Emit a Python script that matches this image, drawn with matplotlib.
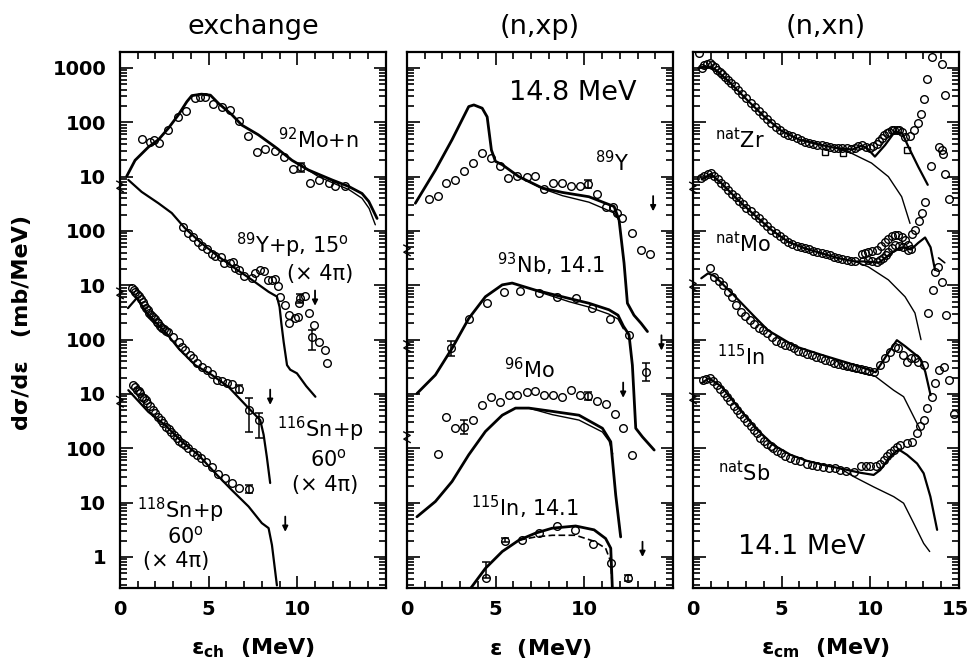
import numpy as np
import matplotlib
matplotlib.use('Agg')
import matplotlib.pyplot as plt
from matplotlib.ticker import MultipleLocator, LogLocator, FixedLocator, FixedFormatter, NullFormatter
from matplotlib.transforms import blended_transform_factory

plt.rcParams['font.family'] = ['DejaVu Sans']
plt.rcParams['mathtext.fontset'] = 'dejavusans'
plt.rcParams['mathtext.default'] = 'regular'

ytick_labels = ['1', '10', '100', '10', '100', '10', '100', '10', '100', '1000']

# ---------------- exchange panel ----------------
MO92_SHIFT = 1e6
mo92n_th_x = [0.38, 0.85, 1.6, 2.17, 2.73, 3.3, 3.77, 4.05, 4.6, 5.1, 5.55, 6.31, 6.87, 7.8, 8.76, 9.7, 10.64, 11.96, 12.9, 13.65, 14.03, 14.5]
mo92n_th_y = [10.2, 20, 35, 48, 78, 138, 240, 310, 330, 316, 224, 138, 89, 59, 35, 20, 13.2, 8.7, 6.6, 4.9, 3.5, 1.7]
mo92n_th2_x = [10.2, 11.2, 12.2, 12.9, 13.65, 14.05, 14.4]
mo92n_th2_y = [16, 10, 7.2, 5.8, 4.0, 2.6, 1.3]
mo92n_x = [1.22, 1.69, 1.94, 2.22, 2.73, 3.26, 3.71, 4.24, 4.52, 4.8, 5.22, 5.74, 6.21, 6.72, 7.21, 7.72, 8.19, 8.72, 9.23, 9.75, 10.23, 10.7, 11.24, 11.77, 12.15, 12.67]
mo92n_y = [49, 44, 47, 41, 72, 127, 163, 276, 295, 295, 218, 195, 170, 107, 55, 29, 32, 30, 23, 14, 15, 7.8, 8.7, 7.6, 6.8, 6.6]

Y89P_SHIFT = 1e4
y89p_th_x = [0.47, 1.22, 2.17, 2.92, 3.67, 4.61, 5.55, 6.5, 7.44, 8.38, 8.85, 9.0, 9.1, 9.23, 9.42, 9.6, 9.98, 10.5, 11.02]
y89p_th_y = [871, 525, 324, 214, 112, 58.9, 33.9, 20.4, 12.6, 7.6, 6.2, 4.0, 2.0, 0.91, 0.34, 0.28, 0.24, 0.14, 0.089]
y89p_x = [3.58, 3.82, 4.09, 4.39, 4.65, 4.9, 5.18, 5.36, 5.71, 5.84, 6.21, 6.35, 6.5, 6.72, 6.97, 7.44, 7.63, 7.91, 8.1, 8.34,
          8.57, 8.72, 8.91, 9.04, 9.28, 9.51, 9.51, 9.89, 10.04, 10.08, 10.17, 10.45, 10.64, 10.83, 10.96, 11.2, 11.54, 11.69]
y89p_y = [120, 93, 79, 62, 52, 46, 38, 35, 33, 26, 26, 27, 21, 19, 15, 13.5, 17, 19, 18, 12.6,
          12.6, 12.9, 9.8, 6.2, 4.4, 2.8, 2.0, 2.5, 2.6, 4.7, 5.8, 6.3, 3.1, 1.1, 1.9, 0.89, 0.65, 0.37]

SN116_SHIFT = 1e2
sn116_th_x = [0.45, 0.96, 1.6, 2.54, 3.3, 4.24, 5.18, 6.12, 7.25, 7.91, 8.1, 8.28, 8.47]
sn116_th_y = [380, 589, 282, 141, 69, 34, 22.4, 13.5, 5.5, 3.3, 1.78, 0.7, 0.23]
sn116_x = [0.68, 0.78, 0.87, 0.97, 1.06, 1.16, 1.27, 1.36, 1.46, 1.57, 1.66, 1.77, 1.86, 1.97, 2.07, 2.17, 2.28, 2.38, 2.48, 2.6,
           2.73, 3.01, 3.3, 3.48, 3.67, 3.95, 4.14, 4.33, 4.61, 4.9, 5.18, 5.46, 5.74, 6.03, 6.31, 6.72, 7.25, 7.82]
sn116_y = [891, 830, 760, 680, 630, 550, 500, 440, 380, 355, 316, 290, 257, 240, 214, 200, 182, 166, 155, 145,
           141, 112, 91, 74, 65, 52, 46, 37, 32, 28, 23, 18, 17, 16, 15, 12.3, 5.1, 3.3]

SN118_SHIFT = 1
sn118_th_x = [0.47, 1.6, 2.54, 3.48, 4.42, 5.37, 6.31, 7.25, 8.0, 8.38, 8.57, 8.85]
sn118_th_y = [1175, 468, 269, 132, 76, 35, 17, 8.5, 4.2, 3.4, 1.66, 0.30]
sn118_x = [0.75, 0.85, 0.95, 1.05, 1.15, 1.25, 1.35, 1.45, 1.55, 1.7, 1.85, 2.0, 2.15, 2.3, 2.45, 2.6, 2.75, 2.9, 3.05, 3.2, 3.35, 3.5,
           3.67, 3.86, 4.09, 4.33, 4.58, 4.84, 5.18, 5.55, 5.93, 6.31, 6.72, 7.25]
sn118_y = [1479, 1349, 1202, 1122, 1023, 891, 832, 759, 692, 603, 513, 447, 380, 331, 288, 251, 224, 200, 174, 155, 138, 126,
           115, 100, 87, 76, 66, 56, 46, 33, 28, 23, 19, 18]

# ---------------- (n,xp) panel ----------------
Y89_SHIFT = 1e6
y89_th_x = [0.47, 1.6, 2.54, 3.48, 3.77, 4.24, 4.52, 4.76, 4.99, 5.37, 6.31, 7.63, 8.76, 10.26, 11.2, 11.68, 11.96, 12.24, 12.43, 12.8, 13.2, 13.56]
y89_th_y = [3.24, 13.2, 47.9, 195, 209, 182, 126, 30.9, 19.1, 16.6, 10, 6.17, 5.13, 4.27, 3.24, 2.82, 1.58, 0.257, 0.0468, 0.0282, 0.020, 0.0141]
y89_th2_x = [6.31, 7.63, 8.76, 10.26, 11.2, 11.68, 11.96]
y89_th2_y = [10, 6.03, 4.47, 3.39, 2.51, 2.14, 1.58]
y89_x = [1.22, 1.73, 2.22, 2.69, 3.24, 3.73, 4.24, 4.73, 5.22, 5.71, 6.23, 6.74, 7.21, 7.72, 8.23, 8.72, 9.23, 9.73,
         10.23, 10.73, 11.2, 11.62, 11.86, 12.15, 12.71, 13.18, 13.69]
y89_y = [3.89, 4.37, 7.59, 8.71, 12.9, 18.2, 27.5, 21.9, 15.8, 9.55, 10.2, 10, 10.2, 5.89, 7.76, 7.76, 6.61, 6.76,
         7.24, 4.79, 2.82, 2.82, 2.14, 1.70, 0.912, 0.447, 0.380]

NB93_SHIFT = 1e4
nb93_th_x = [0.56, 1.6, 2.54, 3.48, 4.42, 5.37, 5.93, 7.25, 9.13, 10.26, 11.39, 11.9, 12.2, 12.52, 12.71, 12.9, 13.28, 13.94]
nb93_th_y = [0.102, 0.224, 0.692, 2.45, 6.17, 10.2, 11.0, 8.13, 5.75, 4.68, 3.55, 2.82, 1.78, 1.23, 0.339, 0.0234, 0.0162, 0.0093]
nb93_th2_x = [7.25, 9.13, 10.26, 11.39, 11.9, 12.2]
nb93_th2_y = [7.94, 5.01, 3.98, 2.95, 2.40, 1.58]
nb93_x = [2.5, 3.48, 4.52, 5.46, 6.4, 7.44, 8.47, 9.51, 10.45, 11.45, 12.52, 13.47]
nb93_y = [0.692, 2.45, 4.68, 7.59, 7.94, 7.08, 6.17, 5.75, 3.80, 2.4, 1.23, 0.257]

MO96_SHIFT = 1e2
mo96_th_x = [0.56, 1.6, 2.54, 3.48, 4.42, 5.37, 6.12, 6.87, 8.19, 9.7, 11.02, 11.49, 11.77, 12.05]
mo96_th_y = [0.055, 0.105, 0.245, 0.759, 2.04, 4.07, 5.50, 5.50, 4.79, 4.07, 2.34, 1.32, 0.138, 0.0234]
mo96_th2_x = [6.87, 8.19, 9.7, 11.02, 11.4, 11.6]
mo96_th2_y = [5.5, 4.17, 3.31, 2.0, 1.35, 0.79]
mo96_x = [1.75, 2.22, 2.73, 3.24, 3.73, 4.24, 4.73, 5.24, 5.74, 6.23, 6.74, 7.21, 7.72, 8.23, 8.72, 9.23, 9.73,
          10.23, 10.73, 11.24, 11.73, 12.2, 12.71]
mo96_y = [0.776, 3.80, 2.40, 2.51, 3.31, 6.31, 8.71, 7.08, 9.77, 9.77, 11.0, 11.5, 9.55, 9.55, 8.71, 11.7, 9.55,
          9.12, 7.41, 6.46, 4.37, 2.34, 0.759]

IN115P_SHIFT = 1
in115p_th_x = [3.58, 4.42, 5.37, 6.31, 7.25, 8.19, 9.51, 10.55, 11.2, 11.49, 11.58]
in115p_th_y = [0.263, 0.617, 1.26, 2.04, 2.75, 3.39, 3.72, 3.16, 2.19, 1.45, 0.269]
in115p_th2_x = [6.31, 7.25, 8.19, 9.51, 10.55, 11.2, 11.49, 11.58]
in115p_th2_y = [2.04, 2.34, 2.51, 2.51, 1.95, 1.45, 0.813, 0.269]
in115p_x = [4.48, 5.5, 6.5, 7.44, 8.47, 9.47, 10.49, 11.49, 12.49]
in115p_y = [0.407, 2.0, 2.04, 2.75, 3.72, 3.16, 1.70, 0.759, 0.407]

# ---------------- (n,xn) panel ----------------
ZR_SHIFT = 1e6
zr_th_x = [0.3, 0.7, 1.2, 2.0, 3.0, 4.0, 5.0, 6.0, 7.0, 8.0, 9.0, 9.5, 9.8, 10.26, 10.83, 11.39, 11.8, 12.15, 12.71, 13.24]
zr_th_y = [1000, 1072, 977, 575, 269, 129, 69.2, 47.9, 39.8, 33.9, 31.6, 37.2, 33.9, 23.4, 38.0, 67.6, 63.1, 35.5, 15.1, 7.08]
zr_th2_x = [8.0, 8.76, 10.07, 11.02, 11.77, 12.24]
zr_th2_y = [33.9, 28.8, 17.8, 10, 4.27, 1.38]
zr_x = [0.35, 0.5, 0.65, 0.8, 0.94, 1.08, 1.22, 1.36, 1.51, 1.65, 1.79, 1.98, 2.17, 2.35, 2.54, 2.78, 3.01, 3.25, 3.48, 3.71,
        3.95, 4.18, 4.42, 4.66, 4.9, 5.13, 5.37, 5.6, 5.84, 6.07, 6.31, 6.55, 6.78, 7.02, 7.25, 7.49, 7.72, 7.96, 8.19, 8.43,
        8.66, 8.9, 9.13, 9.32, 9.51, 9.75, 9.98, 10.17, 10.36, 10.5, 10.64, 10.78, 10.92, 11.06, 11.2, 11.35, 11.49, 11.63, 11.77, 11.96]
zr_y = [1862, 1000, 1122, 1202, 1230, 1122, 1047, 933, 851, 776, 692, 603, 525, 457, 398, 331, 275, 229, 195, 162,
        138, 115, 95.5, 83.2, 72.4, 64.6, 58.9, 55.0, 51.3, 46.8, 43.7, 41.7, 40.7, 38.9, 38.0, 36.3, 35.5, 33.9, 33.1, 33.1,
        33.1, 32.4, 33.9, 36.3, 38.0, 35.5, 33.1, 36.3, 40.7, 45.7, 51.3, 57.5, 63.1, 67.6, 70.8, 72.4, 72.4, 70.8, 67.6, 53.7]
zr_sq_x = [7.44, 8.47, 12.05]
zr_sq_y = [28.8, 26.9, 30.9]
zr_el_x = [12.26, 12.49, 12.67, 12.86, 13.05, 13.2, 13.49, 14.05, 14.24]
zr_el_y = [56.2, 72.4, 97.7, 141, 269, 631, 1585, 1175, 316]

MO_SHIFT = 1e4
mo_th_x = [0.5, 1.0, 1.6, 2.54, 3.48, 4.42, 5.37, 6.31, 7.25, 8.19, 9.13, 9.6, 10.5, 11.3, 11.8, 12.3, 12.7, 13.09, 13.4, 13.65]
mo_th_y = [891, 1120, 759, 372, 195, 105, 63.1, 47.9, 38.9, 31.6, 27.5, 27.5, 26.3, 41.7, 50.1, 45.7, 60.3, 75.9, 50.1, 19.1]
mo_th_tail_x = [13.85, 14.2]
mo_th_tail_y = [32, 26]
mo_th2_x = [9.13, 9.89, 11.02, 11.96, 12.52, 12.86]
mo_th2_y = [27.5, 21.9, 12.6, 6.17, 3.09, 1.0]
mo_x = [0.47, 0.65, 0.85, 1.03, 1.2, 1.4, 1.6, 1.8, 2.0, 2.2, 2.4, 2.6, 2.8, 3.0, 3.25, 3.48, 3.7, 3.95, 4.18, 4.42,
        4.66, 4.9, 5.13, 5.37, 5.6, 5.84, 6.07, 6.31, 6.55, 6.78, 7.02, 7.25, 7.49, 7.72, 7.96, 8.19, 8.43, 8.66, 8.9, 9.13]
mo_y = [933, 1050, 1120, 1150, 1050, 891, 759, 661, 562, 479, 417, 355, 309, 269, 229, 195, 170, 145, 123, 105,
        91.2, 79.4, 70.8, 63.1, 57.5, 53.7, 50.1, 47.9, 45.7, 43.7, 40.7, 38.9, 37.2, 35.5, 33.1, 31.6, 30.2, 29.5, 28.2, 27.5]
mo_up_x = [9.51, 9.7, 9.89, 10.1, 10.36, 10.6, 10.83, 11.0, 11.2, 11.4, 11.58, 11.77, 11.96, 12.15, 12.3]
mo_up_y = [38.0, 39.8, 41.7, 42.7, 44.7, 52.5, 63.1, 72.4, 79.4, 83.2, 85.1, 77.6, 67.6, 56.2, 46.8]
mo_lo_x = [9.6, 9.89, 10.12, 10.36, 10.55, 10.73, 10.88, 11.02, 11.2, 11.39, 11.6, 11.86, 12.15]
mo_lo_y = [28.2, 28.8, 27.5, 26.9, 28.8, 31.6, 36.3, 41.7, 47.9, 55.0, 53.7, 51.3, 44.7]
mo_el_x = [12.36, 12.54, 12.73, 12.92, 13.07, 13.45, 13.86, 14.05, 14.08, 14.24, 14.42]
mo_el_y = [89.1, 105, 155, 214, 339, 1580, 3550, 3090, 2630, 1120, 380]

IN_SHIFT = 1e2
in_th_x = [0.47, 0.85, 1.22, 2.3, 3.48, 4.24, 5.74, 7.25, 8.76, 9.89, 10.3, 11.0, 11.5, 11.96, 12.8, 13.1, 13.4]
in_th_y = [1349, 1660, 1479, 661, 263, 148, 75.9, 52.5, 37.2, 28.2, 25.1, 56.2, 97.7, 75.9, 45.7, 25.7, 9.55]
in_th2_x = [8.0, 8.68, 10.26, 11.32, 11.88, 12.45, 12.82]
in_th2_y = [43.7, 28.8, 21.4, 11.7, 8.91, 3.80, 2.19]
in_x = [0.94, 1.2, 1.45, 1.7, 1.95, 2.2, 2.45, 2.7, 2.95, 3.2, 3.45, 3.7, 3.95, 4.2, 4.45, 4.7, 4.95, 5.2, 5.45,
        5.7, 5.95, 6.2, 6.45, 6.7, 6.95, 7.2, 7.45, 7.7, 7.95, 8.2, 8.45, 8.7, 8.95, 9.2, 9.45, 9.7, 9.95, 10.2,
        10.55, 10.83, 11.11, 11.39, 11.58, 11.86, 12.05, 12.3, 12.52, 12.71, 13.05]
in_y = [2042, 1445, 1202, 1000, 759, 603, 437, 324, 275, 234, 191, 166, 148, 132, 110, 95.5, 87.1, 81.3, 75.9,
        69.2, 63.1, 58.9, 53.7, 51.3, 47.9, 45.7, 42.7, 39.8, 37.2, 35.5, 33.9, 33.1, 31.6, 30.2, 28.8, 27.5, 26.3, 25.1,
        33.9, 45.7, 60.3, 74.1, 69.2, 52.5, 38.9, 45.7, 45.7, 38.9, 33.9]
in_el_x = [13.24, 13.52, 13.65, 13.84, 14.03, 14.25]
in_el_y = [309, 813, 1778, 2138, 1175, 282]

SB_SHIFT = 1
sb_th_x = [0.49, 0.9, 1.6, 2.66, 3.6, 4.54, 5.5, 6.42, 7.4, 8.3, 9.44, 10.19, 10.56, 11.13, 11.6, 12.07, 12.64, 13.01, 13.39, 13.77]
sb_th_y = [1585, 1950, 1380, 513, 224, 115, 75.9, 58.9, 49.0, 42.7, 35.5, 32.4, 39.8, 70.8, 95.5, 75.9, 52.5, 34.7, 12.9, 3.16]
sb_th2_x = [8.3, 9.06, 10.19, 11.32, 11.88, 12.45, 13.01, 13.35]
sb_th2_y = [42.7, 30.2, 19.5, 12.9, 9.77, 4.17, 1.78, 1.26]
sb_x = [0.58, 0.75, 0.96, 1.15, 1.35, 1.55, 1.75, 1.9, 2.1, 2.3, 2.5, 2.66, 2.85, 3.05, 3.25, 3.42, 3.6, 3.8, 4.0, 4.2,
        4.38, 4.54, 4.75, 4.95, 5.2, 5.48, 5.75, 6.05, 6.42, 6.7, 7.0, 7.36, 7.65, 8.0, 8.3, 8.65, 9.06, 9.5, 9.75, 10.0,
        10.3, 10.56, 10.75, 10.94, 11.13, 11.32, 11.5, 11.69, 12.07, 12.34]
sb_y = [1820, 1905, 1950, 1738, 1479, 1259, 1047, 891, 741, 603, 501, 437, 363, 302, 257, 219, 191, 158, 138, 120,
        110, 100, 89.1, 81.3, 72.4, 66.1, 61.7, 57.5, 52.5, 50.1, 47.9, 45.7, 43.7, 42.7, 40.7, 38.9, 37.2, 46.8, 46.8, 46.8,
        46.8, 52.5, 60.3, 70.8, 81.3, 93.3, 105, 115, 123, 132]
sb_el_x = [12.64, 12.82, 13.01, 13.2, 13.49, 13.67, 13.86, 14.18, 14.42, 14.7]
sb_el_y = [191, 257, 339, 550, 891, 1585, 2818, 3162, 1778, 427]


def curve(ax, x, y, shift, lw=1.8, ls='-'):
    ax.plot(x, np.asarray(y) * shift, color='k', lw=lw, ls=ls, solid_capstyle='round')


def pts(ax, x, y, shift, marker='o', ms=5.5):
    ax.plot(x, np.asarray(y) * shift, ls='none', marker=marker, ms=ms, mfc='none', mec='k', mew=1.0)


def ebar(ax, x, y, lo, hi, shift):
    ax.errorbar([x], [y * shift], yerr=[[(y - lo) * shift], [(hi - y) * shift]], fmt='none',
                ecolor='k', elinewidth=1.1, capsize=3, capthick=1.1)


def arrow(ax, x, y, shift):
    ax.annotate('', xy=(x, y * shift), xytext=(0, 11), textcoords='offset points',
                arrowprops=dict(arrowstyle='-|>', color='k', lw=1.3, mutation_scale=8, shrinkA=0, shrinkB=0))


def breaks(ax, ys):
    tr = blended_transform_factory(ax.transAxes, ax.transData)
    for y in ys:
        ax.plot([-0.012, 0.012, -0.012, 0.012], [y * 1.25, y * 1.08, y / 1.08, y / 1.25],
                transform=tr, color='k', lw=1.0, clip_on=False)


def style(ax, show_y, xlabels):
    ax.set_yscale('log')
    ax.set_xlim(0, 15)
    ax.set_ylim(0.269, 1.97e9)
    ax.xaxis.set_major_locator(FixedLocator([0, 5, 10, 15]))
    ax.xaxis.set_major_formatter(FixedFormatter(xlabels))
    ax.xaxis.set_minor_locator(MultipleLocator(1))
    ax.yaxis.set_major_locator(FixedLocator(10.0 ** np.arange(10)))
    ax.yaxis.set_major_formatter(FixedFormatter(ytick_labels) if show_y else NullFormatter())
    ax.yaxis.set_minor_locator(LogLocator(base=10, subs=np.arange(2, 10), numticks=100))
    ax.yaxis.set_minor_formatter(NullFormatter())
    ax.tick_params(which='both', direction='in', top=True, right=True, width=1.2)
    ax.tick_params(which='major', length=9, labelsize=14)
    ax.tick_params(which='minor', length=5)
    ax.tick_params(axis='x', pad=9)
    ax.tick_params(axis='y', pad=10)
    for lab in ax.get_xticklabels() + ax.get_yticklabels():
        lab.set_fontweight('bold')
    for s in ax.spines.values():
        s.set_linewidth(1.6)


fig = plt.figure(figsize=(9.7, 6.64), dpi=100)
lefts = [0.1237, 0.4196, 0.7144]
ax1, ax2, ax3 = [fig.add_axes([l, 0.1145, 0.2742, 0.8072]) for l in lefts]

style(ax1, True, ['0', '5', '10', ''])
style(ax2, False, ['0', '5', '10', ''])
style(ax3, False, ['0', '5', '10', ''])
# last x label of the right panel sits at the figure edge
ax3.text(0.987, -0.041, '15', transform=ax3.transAxes, fontsize=14, fontweight='bold', ha='center', va='center')

# exchange
curve(ax1, mo92n_th_x, mo92n_th_y, MO92_SHIFT, lw=2.0)
curve(ax1, mo92n_th2_x, mo92n_th2_y, MO92_SHIFT, lw=1.0)
pts(ax1, mo92n_x, mo92n_y, MO92_SHIFT)
ebar(ax1, 10.23, 15, 12, 18, MO92_SHIFT)
curve(ax1, y89p_th_x, y89p_th_y, Y89P_SHIFT, lw=1.6)
pts(ax1, y89p_x, y89p_y, Y89P_SHIFT)
ebar(ax1, 10.17, 5.8, 4.8, 7.0, Y89P_SHIFT)
ebar(ax1, 10.83, 1.1, 0.65, 1.5, Y89P_SHIFT)
arrow(ax1, 11.0, 4.2, Y89P_SHIFT)
curve(ax1, sn116_th_x, sn116_th_y, SN116_SHIFT, lw=1.6)
pts(ax1, sn116_x, sn116_y, SN116_SHIFT)
ebar(ax1, 6.72, 12.3, 10.5, 14.5, SN116_SHIFT)
ebar(ax1, 7.25, 5.1, 2.0, 8.5, SN116_SHIFT)
ebar(ax1, 7.82, 3.3, 1.55, 4.5, SN116_SHIFT)
arrow(ax1, 8.47, 6.3, SN116_SHIFT)
curve(ax1, sn118_th_x, sn118_th_y, SN118_SHIFT, lw=1.6)
pts(ax1, sn118_x, sn118_y, SN118_SHIFT)
ebar(ax1, 7.25, 18, 15, 21, SN118_SHIFT)
arrow(ax1, 9.32, 2.9, SN118_SHIFT)
breaks(ax1, [6.6e6, 7.1e4, 7.2e2])

# (n,xp)
curve(ax2, y89_th_x, y89_th_y, Y89_SHIFT, lw=2.0)
curve(ax2, y89_th2_x, y89_th2_y, Y89_SHIFT, lw=1.0)
pts(ax2, y89_x, y89_y, Y89_SHIFT)
ebar(ax2, 10.23, 7.24, 6.2, 8.5, Y89_SHIFT)
arrow(ax2, 13.88, 2.3, Y89_SHIFT)
curve(ax2, nb93_th_x, nb93_th_y, NB93_SHIFT, lw=2.0)
curve(ax2, nb93_th2_x, nb93_th2_y, NB93_SHIFT, lw=1.0)
pts(ax2, nb93_x, nb93_y, NB93_SHIFT)
ebar(ax2, 2.5, 0.692, 0.5, 0.95, NB93_SHIFT)
ebar(ax2, 13.47, 0.257, 0.17, 0.37, NB93_SHIFT)
arrow(ax2, 14.35, 0.63, NB93_SHIFT)
curve(ax2, mo96_th_x, mo96_th_y, MO96_SHIFT, lw=2.0)
curve(ax2, mo96_th2_x, mo96_th2_y, MO96_SHIFT, lw=1.0)
pts(ax2, mo96_x, mo96_y, MO96_SHIFT)
ebar(ax2, 3.24, 2.51, 1.86, 3.39, MO96_SHIFT)
ebar(ax2, 10.23, 9.12, 7.6, 10.9, MO96_SHIFT)
arrow(ax2, 12.19, 8.5, MO96_SHIFT)
curve(ax2, in115p_th_x, in115p_th_y, IN115P_SHIFT, lw=2.0)
curve(ax2, in115p_th2_x, in115p_th2_y, IN115P_SHIFT, lw=1.2, ls=(0, (4, 2)))
pts(ax2, in115p_x, in115p_y, IN115P_SHIFT)
ebar(ax2, 4.48, 0.407, 0.407, 0.81, IN115P_SHIFT)
ebar(ax2, 5.5, 2.0, 1.85, 2.2, IN115P_SHIFT)
ebar(ax2, 12.49, 0.407, 0.36, 0.47, IN115P_SHIFT)
arrow(ax2, 13.28, 1.0, IN115P_SHIFT)
breaks(ax2, [4.4e5, 7.6e3, 1.6e2])

# (n,xn)
curve(ax3, zr_th_x, zr_th_y, ZR_SHIFT, lw=1.6)
curve(ax3, zr_th2_x, zr_th2_y, ZR_SHIFT, lw=1.0)
pts(ax3, zr_x, zr_y, ZR_SHIFT)
pts(ax3, zr_sq_x, zr_sq_y, ZR_SHIFT, marker='s', ms=5)
pts(ax3, zr_el_x, zr_el_y, ZR_SHIFT)
curve(ax3, mo_th_x, mo_th_y, MO_SHIFT, lw=1.6)
curve(ax3, mo_th_tail_x, mo_th_tail_y, MO_SHIFT, lw=1.2)
curve(ax3, mo_th2_x, mo_th2_y, MO_SHIFT, lw=1.0)
pts(ax3, mo_x, mo_y, MO_SHIFT)
pts(ax3, mo_up_x, mo_up_y, MO_SHIFT)
pts(ax3, mo_lo_x, mo_lo_y, MO_SHIFT)
pts(ax3, mo_el_x, mo_el_y, MO_SHIFT)
curve(ax3, in_th_x, in_th_y, IN_SHIFT, lw=1.6)
curve(ax3, in_th2_x, in_th2_y, IN_SHIFT, lw=1.0)
pts(ax3, in_x, in_y, IN_SHIFT)
pts(ax3, in_el_x, in_el_y, IN_SHIFT)
curve(ax3, sb_th_x, sb_th_y, SB_SHIFT, lw=1.6)
curve(ax3, sb_th2_x, sb_th2_y, SB_SHIFT, lw=1.0)
pts(ax3, sb_x, sb_y, SB_SHIFT)
pts(ax3, sb_el_x, sb_el_y, SB_SHIFT)
breaks(ax3, [6.3e6, 1.0e5, 8.3e2])

# labels inside panels
lab = dict(fontsize=15, ha='left', va='baseline')
ax1.text(0.595, 0.820, r'$^{92}$Mo+n', transform=ax1.transAxes, **lab)
ax1.text(0.435, 0.624, r'$^{89}$Y+p, 15$^{o}$', transform=ax1.transAxes, **lab)
ax1.text(0.627, 0.575, '(\u00d7 4\u03c0)', transform=ax1.transAxes, **lab)
ax1.text(0.589, 0.282, r'$^{116}$Sn+p', transform=ax1.transAxes, **lab)
ax1.text(0.714, 0.226, r'60$^{o}$', transform=ax1.transAxes, **lab)
ax1.text(0.645, 0.180, '(\u00d7 4\u03c0)', transform=ax1.transAxes, **lab)
ax1.text(0.063, 0.130, r'$^{118}$Sn+p', transform=ax1.transAxes, **lab)
ax1.text(0.176, 0.083, r'60$^{o}$', transform=ax1.transAxes, **lab)
ax1.text(0.088, 0.040, '(\u00d7 4\u03c0)', transform=ax1.transAxes, **lab)

ax2.text(0.384, 0.910, '14.8 MeV', transform=ax2.transAxes, fontsize=19.5, ha='left', va='baseline')
ax2.text(0.708, 0.777, r'$^{89}$Y', transform=ax2.transAxes, **lab)
ax2.text(0.337, 0.587, r'$^{93}$Nb, 14.1', transform=ax2.transAxes, **lab)
ax2.text(0.365, 0.391, r'$^{96}$Mo', transform=ax2.transAxes, **lab)
ax2.text(0.239, 0.133, r'$^{115}$In, 14.1', transform=ax2.transAxes, **lab)

ax3.text(0.082, 0.820, r'$^{nat}$Zr', transform=ax3.transAxes, **lab)
ax3.text(0.082, 0.627, r'$^{nat}$Mo', transform=ax3.transAxes, **lab)
ax3.text(0.092, 0.416, r'$^{115}$In', transform=ax3.transAxes, **lab)
ax3.text(0.095, 0.200, r'$^{nat}$Sb', transform=ax3.transAxes, **lab)
ax3.text(0.170, 0.063, '14.1 MeV', transform=ax3.transAxes, fontsize=19.5, ha='left', va='baseline')

# titles and axis labels
titles = ['exchange', '(n,xp)', '(n,xn)']
xlabels = [r'$\varepsilon_{ch}$  (MeV)', r'$\varepsilon$  (MeV)', r'$\varepsilon_{cm}$  (MeV)']
for l, t, xl in zip(lefts, titles, xlabels):
    cx = l + 0.2742 / 2
    fig.text(cx, 0.949, t, fontsize=19.5, ha='center', va='baseline')
    fig.text(cx, 0.014, xl, fontsize=16, fontweight='bold', ha='center', va='baseline')
fig.text(0.023, 0.515, 'd\u03c3/d\u03b5   (mb/MeV)', fontsize=16, fontweight='bold',
         rotation=90, ha='center', va='center')

fig.savefig('out.png', dpi=100)
